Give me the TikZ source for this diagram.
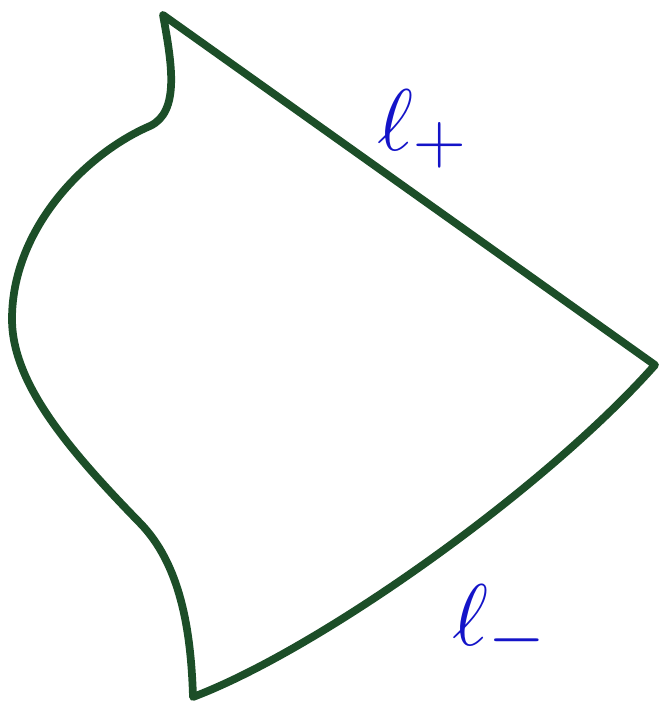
\documentclass[tikz,border=0pt]{standalone}
\usepackage{amsmath,amssymb}
\usepackage{tikz}
\usetikzlibrary{positioning,calc}
\usepackage{xcolor}
\definecolor{inkgreen}{RGB}{28,78,40}
\definecolor{inkblue}{RGB}{20,20,200}

\begin{document}
\begin{tikzpicture}[edge/.style={draw=inkgreen, line width=2.2pt, line join=round, line cap=round}, lbl/.style={text=inkblue, font=\Huge}]
\useasboundingbox (0,0) rectangle (6.62,7.09);

  % Corners of the region
\coordinate (top) at (1.63, 6.94); \coordinate (tip) at (6.55, 3.44); \coordinate (bot) at (1.93, 0.12);
\coordinate (waist) at (1.40, 1.86); \coordinate (belly) at (0.12, 3.90); \coordinate (neck) at (1.50, 5.83);

  % Labels of the two edges
\node[lbl] (lp) at (4.23, 5.80) {$\ell_+$}; \node[lbl] (lm) at (5.00, 0.84) {$\ell_-$};

  % Boundary
\draw[edge] (top) -- (tip) .. controls (5.45, 2.2) and (3.2, 0.6) .. (bot) .. controls (1.91, 0.8) and (1.80, 1.45) .. (waist) .. controls (0.70, 2.58) and (0.12, 3.25) .. (belly) .. controls (0.12, 4.8) and (0.85, 5.55) .. (neck) .. controls (1.80, 5.97) and (1.72, 6.45) .. (top);

\end{tikzpicture}
\end{document}
